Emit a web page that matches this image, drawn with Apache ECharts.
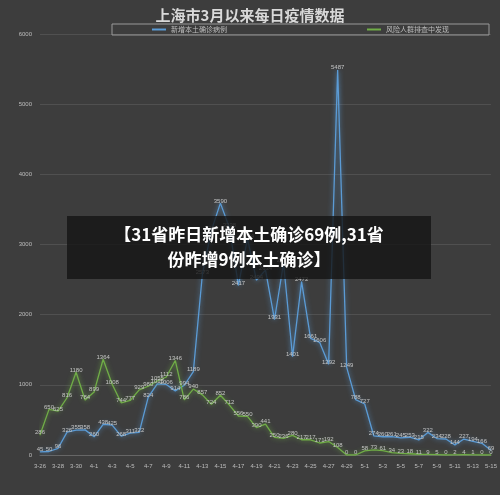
<!DOCTYPE html>
<html><head><meta charset="utf-8">
<script src="https://cdn.jsdelivr.net/npm/echarts@6/dist/echarts.min.js"></script>
<style>html,body{margin:0;padding:0;background:#3d3d3d}#c{width:500px;height:495px}</style>
</head><body><div id="c"></div>
<script>
const dates = ["3-26","3-27","3-28","3-29","3-30","3-31","4-1","4-2","4-3","4-4","4-5","4-6","4-7","4-8","4-9","4-10","4-11","4-12","4-13","4-14","4-15","4-16","4-17","4-18","4-19","4-20","4-21","4-22","4-23","4-24","4-25","4-26","4-27","4-28","4-29","4-30","5-1","5-2","5-3","5-4","5-5","5-6","5-7","5-8","5-9","5-10","5-11","5-12","5-13","5-14","5-15"];
const confirmed = [45,50,96,326,355,358,260,438,425,268,311,322,824,1015,1006,914,994,1189,2573,3200,3590,3238,2417,3084,2494,2634,1931,2736,1401,2472,1661,1606,1292,5487,1249,788,727,274,260,261,245,253,215,322,234,228,144,227,194,166,69];
const screened = [286,650,625,816,1180,784,899,1364,1008,744,777,929,980,1055,1112,1346,786,940,857,724,852,712,556,550,390,441,250,236,280,217,217,171,192,108,0,0,58,73,61,34,23,18,11,9,5,0,2,4,1,0,0];
const yTicks = [0,1000,2000,3000,4000,5000,6000];
const chart = echarts.init(document.getElementById('c'));
const lbl = {show:true,position:'top',distance:-1,color:'#c4c4c4',fontSize:6};
chart.setOption({
  backgroundColor:'#3d3d3d',
  title:{text:'上海市3月以来每日疫情数据',left:'center',top:3,textStyle:{color:'#d9d9d9',fontSize:15,fontWeight:'bold',fontFamily:'Noto Sans CJK SC'}},
  legend:{top:24,left:112,width:375,itemGap:140,itemWidth:14,itemHeight:2,icon:'rect',borderColor:'#9a9a9a',borderWidth:1,padding:[2,40,2,40],textStyle:{color:'#bdbdbd',fontSize:7,fontFamily:'Noto Sans CJK SC'},data:['新增本土确诊病例','风险人群排查中发现']},
  grid:{left:40,right:5,top:34,bottom:40},
  xAxis:{type:'category',data:dates,boundaryGap:false,axisLine:{lineStyle:{color:'#666'}},axisTick:{show:false},axisLabel:{color:'#bdbdbd',fontSize:6,interval:1}},
  yAxis:{type:'value',min:0,max:6000,interval:1000,axisLine:{show:false},axisTick:{show:false},splitLine:{lineStyle:{color:'#505050'}},axisLabel:{color:'#bdbdbd',fontSize:6,margin:8,formatter:v=>yTicks.includes(v)?String(v):''}},
  series:[
    {name:'新增本土确诊病例',type:'line',data:confirmed,symbol:'circle',symbolSize:0.5,showAllSymbol:true,label:lbl,labelLayout:{hideOverlap:false},lineStyle:{color:'#5b9bd5',width:1.3,shadowColor:'rgba(91,155,213,0.9)',shadowBlur:5},itemStyle:{color:'#5b9bd5'}},
    {name:'风险人群排查中发现',type:'line',data:screened,symbol:'circle',symbolSize:0.5,showAllSymbol:true,label:lbl,labelLayout:{hideOverlap:false},lineStyle:{color:'#70ad47',width:1.3,shadowColor:'rgba(112,173,71,0.9)',shadowBlur:5},itemStyle:{color:'#70ad47'}}
  ],
  graphic:[
    {type:'rect',left:67,top:216,shape:{width:364,height:63},style:{fill:'rgba(20,20,20,0.8)'},z:100},
    {type:'text',x:249,y:222,z:101,style:{text:'【31省昨日新增本土确诊69例,31省\n份昨增9例本土确诊】',fill:'#fff',font:'bold 17px "Noto Sans CJK SC"',lineHeight:25,align:'center'}}
  ]
});
</script></body></html>
